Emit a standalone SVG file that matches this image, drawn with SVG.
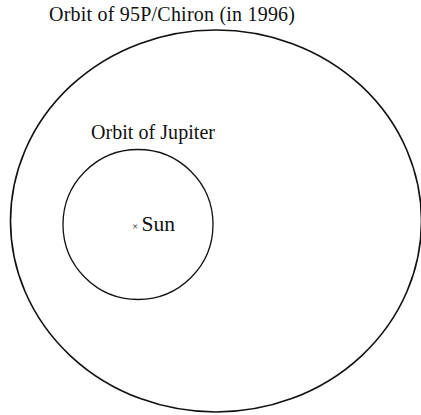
<svg xmlns="http://www.w3.org/2000/svg" width="421" height="415" viewBox="0 0 421 415">
<style>
.orbit{fill:none;stroke:#111;}
.lbl{font-family:"Liberation Serif","Times New Roman",serif;fill:#111;}
</style>
<rect width="421" height="415" fill="#fff"/>
<g id="chiron-orbit">
<ellipse class="orbit" cx="216" cy="221" rx="205.5" ry="191" stroke-width="1.6"/>
<text class="lbl" x="49" y="21" font-size="20" textLength="246" lengthAdjust="spacing">Orbit of 95P/Chiron (in 1996)</text>
</g>
<g id="jupiter-orbit">
<circle class="orbit" cx="138" cy="224.5" r="75" stroke-width="1.3"/>
<text class="lbl" x="91" y="139" font-size="20" textLength="124" lengthAdjust="spacing">Orbit of Jupiter</text>
</g>
<g id="sun">
<text class="lbl" x="135" y="230" font-size="10" text-anchor="middle">×</text>
<text class="lbl" x="141.5" y="231" font-size="21.5">Sun</text>
</g>
<g id="connectors"></g>
</svg>
